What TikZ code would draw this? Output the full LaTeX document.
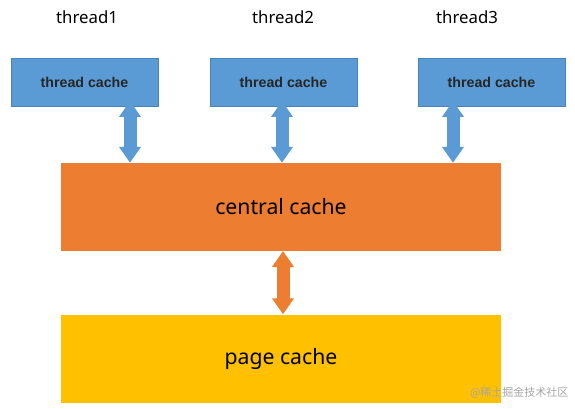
\documentclass[tikz,border=0pt]{standalone}
\usepackage{fontspec}
\setmainfont{Noto Sans}
\newfontfamily\boxfont{Liberation Sans}
\newfontfamily\cjk{Noto Sans CJK SC}
\usetikzlibrary{arrows.meta,positioning}
\definecolor{cacheblue}{HTML}{5B9BD5}
\definecolor{blueedge}{HTML}{4A82BA}
\definecolor{centralorange}{HTML}{ED7D31}
\definecolor{pageyellow}{HTML}{FFC000}
\tikzstyle{threadlabel}=[font=\fontsize{16.8}{19}\selectfont, text=black]
\tikzstyle{threadcache}=[rectangle, fill=cacheblue, draw=blueedge, line width=0.8pt, minimum width=147pt, minimum height=48pt, font=\boxfont\bfseries\fontsize{14.2}{16}\selectfont, text=black!85]
\tikzstyle{bigcache}=[rectangle, minimum width=440pt, minimum height=88pt, font=\fontsize{21.2}{25}\selectfont, text=black]
\tikzstyle{bluearrow}=[line width=13pt, draw=cacheblue, {Triangle[width=21pt,length=16pt]}-{Triangle[width=21pt,length=16pt]}]
\tikzstyle{orangearrow}=[line width=13pt, draw=centralorange, {Triangle[width=21pt,length=16pt]}-{Triangle[width=21pt,length=16pt]}]
\begin{document}
\begin{tikzpicture}[x=1pt, y=-1pt]
	\useasboundingbox (0,0) rectangle (575,409);
	% threads
	\node [style=threadlabel] (t1) at (87, 17) {thread1};
	\node [style=threadlabel] (t2) at (283, 17) {thread2};
	\node [style=threadlabel] (t3) at (467, 17) {thread3};
	\node [style=threadcache] (tc1) at (84.5, 82) {thread cache};
	\node [style=threadcache] (tc2) at (283.5, 82) {thread cache};
	\node [style=threadcache] (tc3) at (491.5, 82) {thread cache};
	% caches
	\node [style=bigcache, fill=centralorange] (cc) at (281, 207) {central cache};
	\node [style=bigcache, fill=pageyellow] (pc) at (281, 358.5) {page cache};
	% arrow ends
	\coordinate (a1) at (130, 101);
	\coordinate (a2) at (282, 101);
	\coordinate (a3) at (453, 101);
	\coordinate (b1) at (a1 |- cc.north);
	\coordinate (b2) at (a2 |- cc.north);
	\coordinate (b3) at (a3 |- cc.north);
	\coordinate (c) at (283, 251);
	\coordinate (p) at (c |- pc.north);
	\draw [style=bluearrow] (a1) to (b1);
	\draw [style=bluearrow] (a2) to (b2);
	\draw [style=bluearrow] (a3) to (b3);
	\draw [style=orangearrow] (c) to (p);
	% watermark
	\node [anchor=east, text=black!35, font=\cjk\fontsize{11}{13}\selectfont] (wm) at (572, 393) {@稀土掘金技术社区};
\end{tikzpicture}
\end{document}
